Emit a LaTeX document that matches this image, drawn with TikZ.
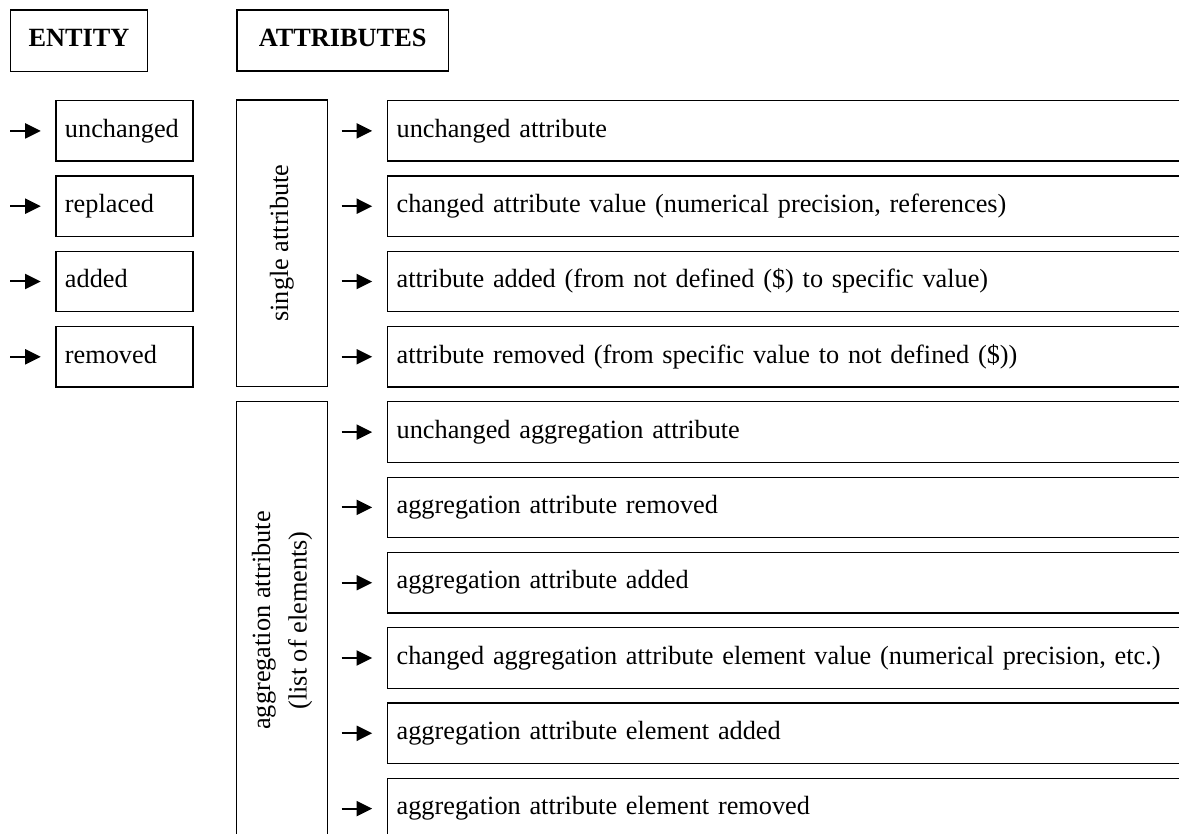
\documentclass[tikz,border=0pt]{standalone}
\usepackage{fontspec}
\setmainfont{Liberation Serif}
\usetikzlibrary{arrows.meta}
\begin{document}
\begin{tikzpicture}[x=1pt,y=-1pt,
  base/.style={draw, line width=1.3pt, inner sep=0pt, text height=18.4pt, text depth=5.9pt,
    font=\fontsize{26.3}{36.5}\selectfont},
  head/.style={base, anchor=north west, font=\fontsize{26.3}{36.5}\selectfont\bfseries},
  entbox/.style={base, anchor=north west, minimum height=60.5pt, inner xsep=9pt, text width=119pt, align=left},
  attbox/.style={base, anchor=north west, minimum height=60.5pt, inner xsep=9.3pt, text width=800pt, align=left},
  grp/.style={base, rotate=90, align=center},
  arr/.style={line width=2pt, -{Triangle[length=15.6pt,width=15pt]}, shorten >=14.5pt}
]
\useasboundingbox (0,0) rectangle (1179,834);
\clip (0,0) rectangle (1179,834);

% headers
\node[head, minimum width=137.3pt, minimum height=61.4pt] (hent) at (9.7,9.3) {ENTITY};
\node[head, minimum width=211.4pt, minimum height=61pt] (hatt) at (236.3,9.3) {ATTRIBUTES};

% entity boxes
\node[entbox] (e1) at (55.3,100.0) {unchanged};
\node[entbox] (e2) at (55.3,175.3) {replaced};
\node[entbox] (e3) at (55.3,250.6) {added};
\node[entbox] (e4) at (55.3,325.9) {removed};

\foreach \n in {1,...,4}{
  \coordinate (ea\n) at ([xshift=-45.3pt]e\n.west);
  \draw[arr] (ea\n) -- (e\n.west);
}

% group boxes
\node[grp, minimum width=286.3pt, minimum height=91pt] (sa) at (281.8,243.15) {single attribute};
\node[grp, minimum width=437.6pt, minimum height=91.4pt, text height=, text depth=] (ag) at (282.0,620.5)
  {aggregation attribute\\(list of elements)};

% attribute boxes
\node[attbox] (a1) at (386.7,100.0) {unchanged attribute};
\node[attbox] (a2) at (386.7,175.3) {changed attribute value (numerical precision, references)};
\node[attbox] (a3) at (386.7,250.6) {attribute added (from not defined (\$) to specific value)};
\node[attbox] (a4) at (386.7,325.9) {attribute removed (from specific value to not defined (\$))};
\node[attbox] (a5) at (386.7,401.2) {unchanged aggregation attribute};
\node[attbox] (a6) at (386.7,476.5) {aggregation attribute removed};
\node[attbox] (a7) at (386.7,551.8) {aggregation attribute added};
\node[attbox] (a8) at (386.7,627.1) {changed aggregation attribute element value (numerical precision, etc.)};
\node[attbox] (a9) at (386.7,702.4) {aggregation attribute element added};
\node[attbox] (a10) at (386.7,777.7) {aggregation attribute element removed};

\foreach \n in {1,...,10}{
  \coordinate (aa\n) at ([xshift=-45pt]a\n.west);
  \draw[arr] (aa\n) -- (a\n.west);
}
\end{tikzpicture}
\end{document}
